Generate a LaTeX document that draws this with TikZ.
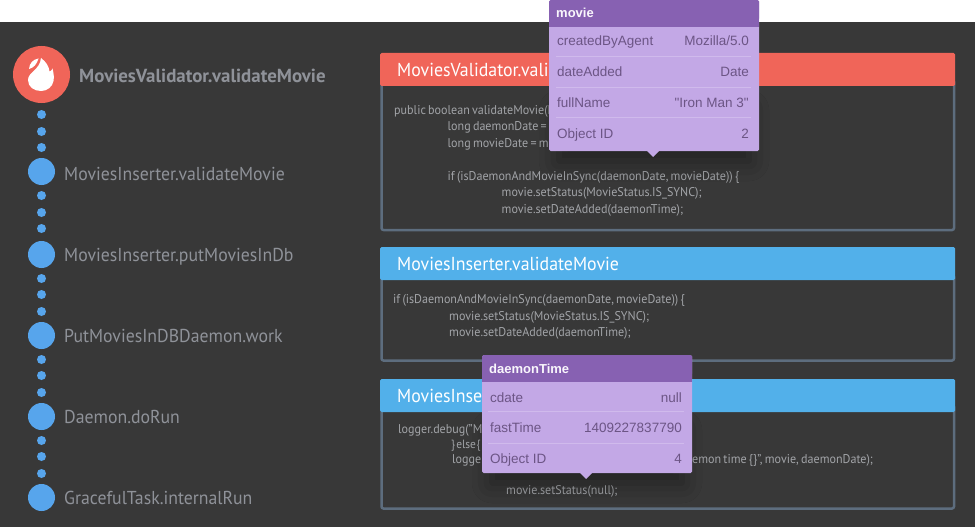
\documentclass[tikz,border=0pt]{standalone}
\usepackage{fontspec}
\setmainfont[FakeStretch=0.95,WordSpace=0.7]{PT Sans}
\newfontfamily\boldfam{PT Sans}
\newfontfamily\tipfont{Liberation Sans}
\usetikzlibrary{shadows.blur}
\definecolor{bgdark}{HTML}{383838}
\definecolor{redc}{HTML}{F06559}
\definecolor{bluec}{HTML}{52B0EA}
\definecolor{dotc}{HTML}{57A5EC}
\definecolor{framec}{HTML}{5D6D7E}
\definecolor{labc}{HTML}{8F9299}
\definecolor{codec}{HTML}{A2A4A8}
\definecolor{purpd}{HTML}{8761B2}
\definecolor{purpl}{HTML}{C3A8E6}
\definecolor{purpline}{HTML}{D0BAEC}
\definecolor{tiptext}{HTML}{6C5585}
\tikzset{
 x=1pt,y=-1pt,
 dotn/.style={circle,fill=dotc,minimum size=9pt,inner sep=0,draw=none},
 bign/.style={circle,fill=dotc,minimum size=27pt,inner sep=0,draw=none},
 lab/.style={anchor=west,text=labc,font=\fontsize{18.7}{22}\selectfont,inner sep=0,text height=13pt,text depth=0pt},
 boldlab/.style={lab,font=\boldfam\fontsize{18.9}{22}\selectfont\bfseries},
 frm/.style={draw=framec,line width=2.5pt,rounded corners=2pt},
 hdr/.style={rounded corners=1.5pt},
 title/.style={anchor=west,text=white,font=\fontsize{18.8}{22}\selectfont,inner sep=0,text height=13pt,text depth=0pt},
 code/.style={anchor=west,text=codec,font=\fontsize{12.7}{15}\selectfont,inner sep=0,text height=9pt,text depth=0pt},
 tipshadow/.style={blur shadow={shadow xshift=0pt,shadow yshift=-10pt,shadow blur radius=20pt,shadow opacity=40}},
 tipkey/.style={anchor=west,text=tiptext,font=\tipfont\fontsize{13.5}{16}\selectfont,inner sep=0,text height=10pt,text depth=0pt},
 tipval/.style={tipkey,anchor=east},
 tiphead/.style={anchor=west,text=white!90!purpl,font=\tipfont\fontsize{13}{16}\selectfont\bfseries,inner sep=0,text height=10pt,text depth=0pt},
 tipsep/.style={draw=purpline,line width=1pt},
}
\begin{document}
\begin{tikzpicture}
\useasboundingbox (0,0) rectangle (975,527);
\fill[bgdark] (0,22) rectangle (975,527);
% timeline
\node[circle,fill=redc,minimum size=57pt,inner sep=0] (root) at (41.5,74.5) {};
\fill[white] (41,58) .. controls (46,62) and (49,66) .. (49.5,71.5)
  .. controls (51,71) and (52,70) .. (52.5,68.5) .. controls (54,74) and (54,78) .. (53.5,81)
  .. controls (52.5,87) and (47,91) .. (41,91) .. controls (34,91) and (28,87) .. (28,80)
  .. controls (28,72) and (40,70) .. (41,58) -- cycle;
\fill[white] (38.5,58.5) .. controls (33,59.5) and (29.5,63) .. (29,69) .. controls (33.5,68) and (37,64) .. (38.5,58.5) -- cycle;
\foreach \n/\y in {d1/114.5,d2/131.5,d3/147.5,d4/195.5,d5/212.5,d6/228.5,d7/278.5,d8/294.5,d9/311.5,d10/359.5,d11/375.5,d12/392.5,d13/440.5,d14/456.5,d15/473.5}
  \node[dotn] (\n) at (41.5,\y) {};
\node[bign] (b1) at (41.5,171.5) {};
\node[bign] (b2) at (41.5,254.5) {};
\node[bign] (b3) at (41.5,335.5) {};
\node[bign] (b4) at (41.5,416.5) {};
\node[bign] (b5) at (41.5,497.5) {};
\node[boldlab] (l0) at (79,75.5) {MoviesValidator.validateMovie};
\node[lab] (l1) at (64,173.5) {MoviesInserter.validateMovie};
\node[lab] (l2) at (64,255) {MoviesInserter.putMoviesInDb};
\node[lab] (l3) at (64,336) {PutMoviesInDBDaemon.work};
\node[lab] (l4) at (64,417) {Daemon.doRun};
\node[lab] (l5) at (64,498) {GracefulTask.internalRun};
% panel 1
\draw[frm] (381.5,80) rectangle (954,230);
\fill[redc,hdr] (380,53) rectangle (955,86);
\node[title] (t1) at (397,70) {MoviesValidator.vali};
\node[code] (c11) at (394,110) {public boolean validateMovie(D};
\node[code] (c12) at (447.5,126) {long daemonDate =};
\node[code] (c13) at (447.5,143) {long movieDate = m};
\node[code] (c14) at (447.5,176) {if (isDaemonAndMovieInSync(daemonDate, movieDate)) \{};
\node[code] (c15) at (501.5,192) {movie.setStatus(MovieStatus.IS\_SYNC);};
\node[code] (c16) at (501.5,209) {movie.setDateAdded(daemonTime);};
% panel 2
\draw[frm] (381.5,275) rectangle (954,360.5);
\fill[bluec,hdr] (380,247) rectangle (955,280);
\node[title] (t2) at (397,264) {MoviesInserter.validateMovie};
\node[code] (c21) at (393,299) {if (isDaemonAndMovieInSync(daemonDate, movieDate)) \{};
\node[code] (c22) at (449,315.5) {movie.setStatus(MovieStatus.IS\_SYNC);};
\node[code] (c23) at (449,332) {movie.setDateAdded(daemonTime);};
% panel 3
\draw[frm] (381.5,405) rectangle (954,508.5);
\fill[bluec,hdr] (380,379) rectangle (955,412);
\node[title] (t3) at (397,395.5) {MoviesInse};
\node[code] (c31) at (398,429) {logger.debug("M};
\node[code,font=\fontsize{12}{15}\selectfont] (c32) at (451,444) {\}\hspace{-1pt} else\hspace{-1.5pt} \{};
\node[code] (c33) at (452,459) {logger};
\node[code] (c34) at (692,459) {emon time \{\}", movie, daemonDate);};
\node[code] (c35) at (506,489.5) {movie.setStatus(null);};
% tooltip shadows, kept off the white band
\fill[purpl,tipshadow] (559,100) rectangle (749,151);
\fill[purpl,tipshadow] (492,420) rectangle (682,473);
\fill[white] (0,-20) rectangle (975,22);
% tooltip movie
\fill[purpl,rounded corners=1.5pt] (549,0) rectangle (759,151);
\fill[purpl] (647,151) -- (659,151) -- (653,157) -- cycle;
\fill[purpd,rounded corners=1.5pt] (549,0) rectangle (759,20);
\fill[purpd] (549,12) rectangle (759,27);
\node[tiphead] (mh) at (556,13) {movie};
\node[tipkey] (mk1) at (557,41) {createdByAgent};
\node[tipval] (mv1) at (749,41) {Mozilla/5.0};
\node[tipkey] (mk2) at (557,72) {dateAdded};
\node[tipval] (mv2) at (749,72) {Date};
\node[tipkey] (mk3) at (557,102) {fullName};
\node[tipval] (mv3) at (749,102) {"Iron Man 3"};
\node[tipkey] (mk4) at (557,133) {Object ID};
\node[tipval] (mv4) at (749,133) {2};
\draw[tipsep] (556,57) -- (751,57);
\draw[tipsep] (556,87.5) -- (751,87.5);
\draw[tipsep] (556,117.5) -- (751,117.5);
% tooltip daemonTime
\fill[purpl,rounded corners=1.5pt] (482,355) rectangle (692,473);
\fill[purpl] (580,473) -- (592,473) -- (586,479) -- cycle;
\fill[purpd,rounded corners=1.5pt] (482,355) rectangle (692,375);
\fill[purpd] (482,367) rectangle (692,382);
\node[tiphead] (dh) at (489,368.5) {daemonTime};
\node[tipkey] (dk1) at (490,397) {cdate};
\node[tipval] (dv1) at (682,397) {null};
\node[tipkey] (dk2) at (490,427.5) {fastTime};
\node[tipval] (dv2) at (682,427.5) {1409227837790};
\node[tipkey] (dk3) at (490,458) {Object ID};
\node[tipval] (dv3) at (682,458) {4};
\draw[tipsep] (488,411.5) -- (684,411.5);
\draw[tipsep] (488,443) -- (684,443);
\end{tikzpicture}
\end{document}
